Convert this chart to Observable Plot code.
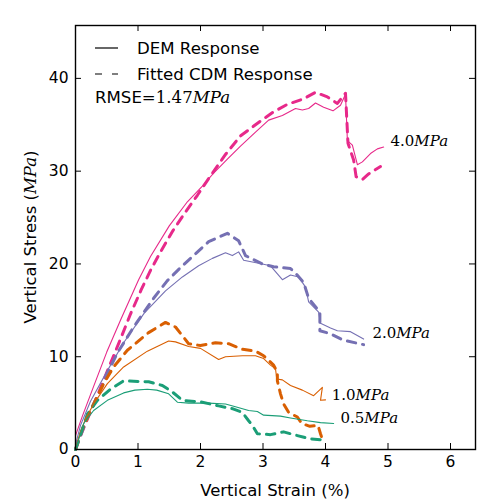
<!DOCTYPE html>
<html>
<head>
<meta charset="utf-8">
<script src="https://cdn.jsdelivr.net/npm/d3@7"></script>
<script src="https://cdn.jsdelivr.net/npm/@observablehq/plot@0.6"></script>
<style>
  html, body { margin: 0; padding: 0; background: white; }
  svg { display: block; }
</style>
</head>
<body>
<div id="chart"></div>
<script>
// ---- data ----
const pressures = ["4.0", "2.0", "1.0", "0.5"];
const colors = ["#e7298a", "#7570b3", "#d95f02", "#1b9e77"];

const dem40x = [0,0.11,0.29,0.5,0.73,1.01,1.2,1.5,1.79,2.03,2.21,2.43,2.64,2.88,3.09,3.31,3.52,3.63,3.73,3.84,3.97,4.12,4.24,4.32,4.35,4.43,4.51,4.59,4.72,4.83,4.93];
const dem40y = [1.5,3.6,6.8,10.5,14.1,18.3,20.8,24.1,26.7,28.4,29.8,31.3,32.7,34.2,35.5,36.0,36.75,36.6,36.75,37.35,36.9,36.5,37.1,38.3,33.3,32.8,30.7,31.0,31.9,32.4,32.6];
const cdm40x = [0,0.05,0.16,0.35,0.53,0.72,0.88,1.05,1.2,1.36,1.56,1.76,1.95,2.13,2.4,2.64,2.96,3.17,3.39,3.65,3.84,4.03,4.19,4.32,4.36,4.45,4.49,4.59,4.69,4.88];
const cdm40y = [0,1.0,2.8,5.8,8.8,11.9,14.6,17.2,19.3,21.3,23.6,25.6,27.4,29.2,31.8,33.8,35.4,36.4,37.2,37.8,38.5,38.0,37.3,38.4,33.0,31.2,29.4,29.1,29.7,30.5];

const dem20x = [0,0.08,0.24,0.51,0.77,1.1,1.44,1.71,1.97,2.19,2.4,2.51,2.61,2.69,2.99,3.12,3.31,3.44,3.57,3.68,3.73,3.89,3.92,4.08,4.19,4.4,4.61];
const dem20y = [0.5,2.6,5.2,8.5,11.5,14.7,17.1,18.6,19.8,20.6,21.2,20.9,21.3,20.4,20.0,19.8,18.3,18.8,18.6,17.5,15.9,14.8,13.6,13.1,12.8,12.7,11.9];
const cdm20x = [0,0.21,0.4,0.56,0.67,0.93,1.25,1.47,1.71,2.13,2.43,2.61,2.72,2.99,3.17,3.44,3.52,3.65,3.73,3.91,3.91,4.07,4.28,4.61];
const cdm20y = [0,3.8,6.4,8.9,10.4,13.2,16.3,18.2,19.8,22.4,23.3,22.5,20.9,20.0,19.7,19.5,19.0,18.0,16.3,14.8,12.8,12.5,11.8,11.3];

const dem10x = [0,0.05,0.16,0.29,0.51,0.77,1.15,1.49,1.6,1.81,2.0,2.29,2.4,2.67,2.88,3.01,3.12,3.2,3.22,3.31,3.44,3.63,3.81,3.95,3.92,4.0];
const dem10y = [0,1.3,3.3,4.9,7.1,8.9,10.6,11.7,11.6,11.1,10.9,9.7,10.0,10.1,10.1,9.8,9.1,8.7,7.6,7.5,6.9,6.4,5.8,6.7,5.3,5.35];
const cdm10x = [0,0.1,0.24,0.45,0.61,0.83,1.17,1.44,1.6,1.81,2.0,2.24,2.45,2.67,2.88,3.01,3.17,3.23,3.23,3.28,3.33,3.41,3.55,3.62,3.75,3.88,3.92,3.95];
const cdm10y = [0,2.0,4.2,7.1,8.9,10.7,12.6,13.7,13.2,11.4,11.2,11.5,11.4,10.8,10.6,10.1,9.1,8.3,7.4,6.0,4.9,4.0,3.5,2.8,2.5,2.6,1.7,1.1];

const dem05x = [0,0.13,0.29,0.51,0.77,0.95,1.15,1.3,1.49,1.63,1.81,2.13,2.4,2.56,2.77,2.91,3.01,3.28,3.44,3.71,3.92,4.13];
const dem05y = [0,2.8,4.2,5.3,6.1,6.4,6.5,6.4,6.0,5.1,5.0,5.0,4.9,4.6,4.2,4.1,3.7,3.6,3.4,3.1,2.9,2.8];
const cdm05x = [0,0.19,0.35,0.56,0.77,1.17,1.39,1.55,1.71,2.03,2.29,2.51,2.67,2.77,2.83,2.91,3.12,3.33,3.55,3.76,4.0];
const cdm05y = [0,3.8,5.3,6.5,7.4,7.3,6.9,6.2,5.3,5.1,4.7,4.4,4.0,3.1,2.6,1.7,1.6,1.9,1.5,1.15,1.0];

const labelText = ["4.0", "2.0", "1.0", "0.5"];
const labelX = [5.04, 4.75, 4.1, 4.24];
const labelY = [33.2, 12.5, 5.9, 3.34];

const xTicks = [0, 1, 2, 3, 4, 5, 6];
const yTicks = [0, 10, 20, 30, 40];

// ---- build tables ----
function rows(p, xs, ys) { return xs.map((x, i) => ({p, x, y: ys[i]})); }
const demRows = [
  ...rows("4.0", dem40x, dem40y), ...rows("2.0", dem20x, dem20y),
  ...rows("1.0", dem10x, dem10y), ...rows("0.5", dem05x, dem05y)
];
const cdmRows = [
  ...rows("4.0", cdm40x, cdm40y), ...rows("2.0", cdm20x, cdm20y),
  ...rows("1.0", cdm10x, cdm10y), ...rows("0.5", cdm05x, cdm05y)
];
const labels = labelText.map((t, i) => ({p: t, t, x: labelX[i], y: labelY[i]}));

const W = 500, H = 500, mL = 75, mR = 25, mT = 25, mB = 51;
const fw = W - mL - mR, fh = H - mT - mB, tk = 6;

const svg = Plot.plot({
  width: W, height: H,
  marginLeft: mL, marginRight: mR, marginTop: mT, marginBottom: mB,
  x: {domain: [0, 6.4]},
  y: {domain: [0, 45.7]},
  color: {domain: pressures, range: colors},
  style: {fontFamily: "DejaVu Sans", fontSize: "15px", background: "white", color: "black"},
  marks: [
    Plot.line(cdmRows, {x: "x", y: "y", z: "p", stroke: "p", strokeWidth: 3, strokeDasharray: "8.5,7"}),
    Plot.line(demRows, {x: "x", y: "y", z: "p", stroke: "p", strokeWidth: 1.1}),
    Plot.text(labels, {x: "x", y: "y", text: "t", textAnchor: "start", fontFamily: "DejaVu Serif", fontSize: 15, fill: "black"}),
    Plot.axisX({ticks: xTicks, tickSize: 0, tickPadding: 6, fontSize: 15.5, label: null, tickFormat: d => String(d)}),
    Plot.axisY({ticks: yTicks, tickSize: 0, tickPadding: 7, fontSize: 15.5, label: null, tickFormat: d => String(d)}),
    Plot.ruleX(xTicks, {x: d => d, insetTop: fh - tk, stroke: "black"}),
    Plot.ruleX(xTicks, {x: d => d, insetBottom: fh - tk, stroke: "black"}),
    Plot.ruleY(yTicks, {y: d => d, insetRight: fw - tk, stroke: "black"}),
    Plot.ruleY(yTicks, {y: d => d, insetLeft: fw - tk, stroke: "black"}),
    Plot.frame({stroke: "black", strokeWidth: 1.4})
  ]
});

document.getElementById("chart").appendChild(svg);

const s = d3.select(svg);
// curve labels: roman number + italic MPa
s.selectAll('g[aria-label="text"] text').each(function() {
  d3.select(this).append("tspan").attr("font-style", "italic").text("MPa");
});

// legend
const lg = s.append("g").attr("font-family", "DejaVu Sans").attr("font-size", 16.6)
  .attr("fill", "black").attr("text-anchor", "start");
lg.append("line").attr("x1", 95).attr("x2", 118).attr("y1", 48).attr("y2", 48)
  .attr("stroke", "black").attr("stroke-width", 1.2);
lg.append("line").attr("x1", 95).attr("x2", 118).attr("y1", 74).attr("y2", 74)
  .attr("stroke", "black").attr("stroke-width", 1.2).attr("stroke-dasharray", "7,10");
lg.append("text").attr("x", 137).attr("y", 48).attr("dy", "0.35em").text("DEM Response");
lg.append("text").attr("x", 137).attr("y", 74).attr("dy", "0.35em").text("Fitted CDM Response");
const rm = lg.append("text").attr("x", 95).attr("y", 97).attr("dy", "0.35em");
rm.append("tspan").text("RMSE=");
rm.append("tspan").attr("font-family", "DejaVu Serif").text("1.47");
rm.append("tspan").attr("font-family", "DejaVu Serif").attr("font-style", "italic").text("MPa");

// axis labels
const xl = s.append("text").attr("x", 275).attr("y", 490).attr("text-anchor", "middle")
  .attr("dy", "0.35em").attr("font-family", "DejaVu Sans").attr("font-size", 16.5).attr("fill", "black");
xl.append("tspan").text("Vertical Strain (");
xl.append("tspan").attr("font-family", "DejaVu Serif").text("%");
xl.append("tspan").text(")");

const yl = s.append("text").attr("transform", "translate(30,237) rotate(-90)").attr("text-anchor", "middle")
  .attr("dy", "0.35em").attr("font-family", "DejaVu Sans").attr("font-size", 16.5).attr("fill", "black");
yl.append("tspan").text("Vertical Stress (");
yl.append("tspan").attr("font-family", "DejaVu Serif").attr("font-style", "italic").text("MPa");
yl.append("tspan").text(")");
</script>
</body>
</html>
